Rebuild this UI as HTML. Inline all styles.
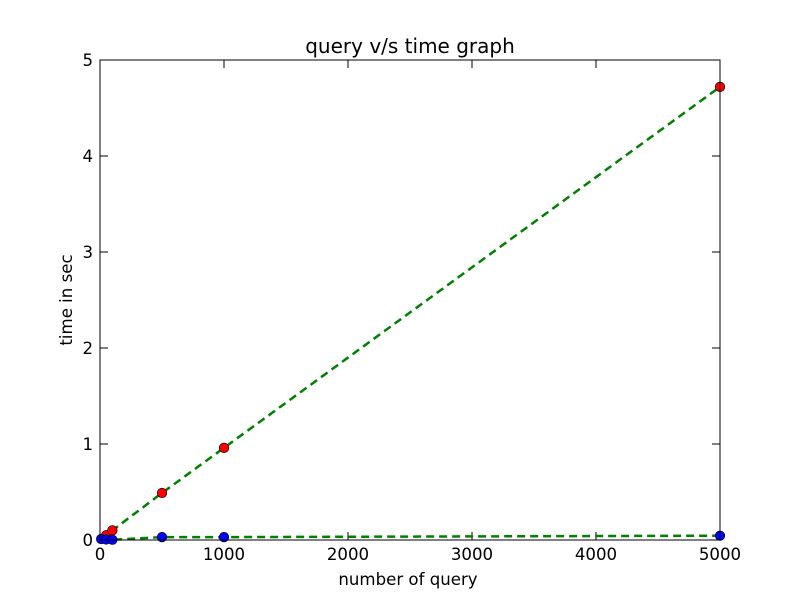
<!DOCTYPE html>
<html><head><meta charset="utf-8"><style>
body{margin:0;background:#fff}
svg text{font-family:"DejaVu Sans","Liberation Sans",sans-serif;font-size:16.6px;fill:#000}
</style></head><body>
<svg width="800" height="600" id="c">
<rect x="0" y="0" width="800" height="600" fill="#fff"/>
<text x="410" y="53" text-anchor="middle" style="font-size:20px">query v/s time graph</text>
<text x="408" y="585" text-anchor="middle">number of query</text>
<text x="72" y="300" text-anchor="middle" transform="rotate(-90 72 300)">time in sec</text>
<g id="ticks"></g>
<g id="series"></g>
<rect x="100" y="60" width="620" height="480" fill="none" stroke="#000"/>
</svg>
<script>
const xTicks=[0,1000,2000,3000,4000,5000];
const yTicks=[0,1,2,3,4,5];
const queries=[10,50,100,500,1000,5000];
const redTimes=[0.01,0.05,0.1,0.49,0.96,4.72];
const blueTimes=[0.01,0.005,0.003,0.03,0.03,0.045];
const X=v=>100+v/5000*620, Y=v=>540-v/5*480;
const NS="http://www.w3.org/2000/svg";
const mk=(t,a,p)=>{const e=document.createElementNS(NS,t);for(const k in a)e.setAttribute(k,a[k]);p.appendChild(e);return e;};
const tg=document.getElementById('ticks');
xTicks.forEach(v=>{
 const l=mk('line',{x1:X(v),x2:X(v),y1:540,y2:532,stroke:'#000'},tg);
 
 
 const l2=mk('line',{x1:X(v),x2:X(v),y1:60,y2:68,stroke:'#000'},tg);
 
 
 const t=mk('text',{x:X(v),y:560,'text-anchor':'middle'},tg);t.textContent=v;
 
 
});
yTicks.forEach(v=>{
 const l=mk('line',{x1:100,x2:108,y1:Y(v),y2:Y(v),stroke:'#000'},tg);
 
 
 const l2=mk('line',{x1:712,x2:720,y1:Y(v),y2:Y(v),stroke:'#000'},tg);
 
 
 const t=mk('text',{x:93,y:Y(v)+6,'text-anchor':'end'},tg);t.textContent=v;
 
 
});
const sg=document.getElementById('series');
[[redTimes,'#ff0000','red'],[blueTimes,'#0000ff','blue']].forEach(([d,c,n])=>{
 const pl=mk('polyline',{points:queries.map((q,i)=>X(q)+','+Y(d[i])).join(' '),fill:'none',stroke:'#008000','stroke-width':2.5,'stroke-dasharray':'8,5'},sg);
 
 
});
[[redTimes,'#ff0000','red'],[blueTimes,'#0000ff','blue']].forEach(([d,c,n])=>{
 queries.forEach((q,i)=>{
  const p=mk('circle',{cx:X(q),cy:Y(d[i]),r:4.8,fill:c,stroke:'#000','stroke-width':0.6},sg);
  
  
 });
});
</script>
</body></html>
